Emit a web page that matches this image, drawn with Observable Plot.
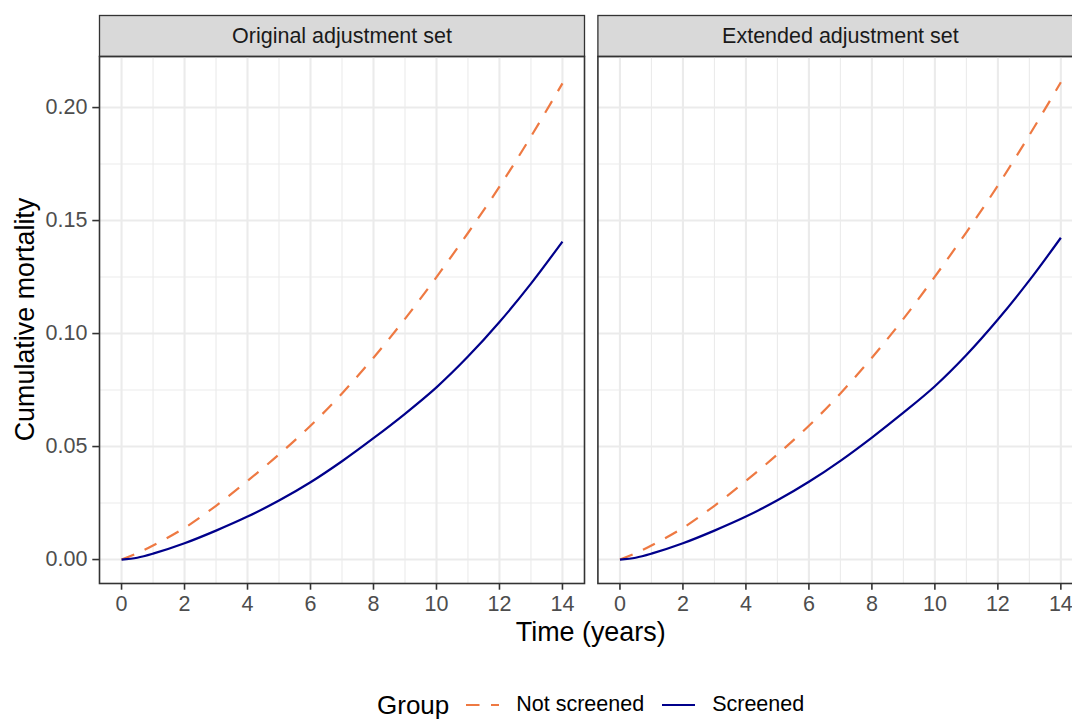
<!DOCTYPE html>
<html>
<head>
<meta charset="utf-8">
<script src="https://cdn.jsdelivr.net/npm/d3@7"></script>
<script src="https://cdn.jsdelivr.net/npm/@observablehq/plot@0.6"></script>
<style>
  html, body { margin: 0; padding: 0; background: white; overflow: hidden; }
  #wrap { position: relative; width: 1072px; height: 719px; overflow: hidden; font-family: "Liberation Sans", Arial, sans-serif; }
  #chart svg { display: block; }
  #legend { position: absolute; left: 377px; top: 692px; display: flex; align-items: center; height: 26px; white-space: nowrap; line-height: 1; }
  #legend .title { font-size: 26px; color: #000; margin-right: 17px; line-height: 1; }
  #legend .lab { font-size: 21.5px; color: #000; margin-left: 17px; margin-right: 18px; line-height: 1; }
  #legend svg { display: block; }
</style>
</head>
<body>
<div id="wrap">
  <div id="chart"></div>
  <div id="legend"></div>
</div>
<script>
// ---- data ----
const panels = ["Original adjustment set", "Extended adjustment set"];
const groups = ["Not screened", "Screened"];
const times = [0, 0.5, 1, 2, 3, 4, 5, 6, 7, 8, 9, 10, 11, 12, 13, 14];
const origNotScreened = [0, 0.0028, 0.0062, 0.0140, 0.0238, 0.0348, 0.0465, 0.0592, 0.0735, 0.0893, 0.1065, 0.1250, 0.1445, 0.1650, 0.1872, 0.2107];
const origScreened    = [0, 0.0008, 0.0026, 0.0072, 0.0128, 0.0190, 0.0261, 0.0342, 0.0435, 0.0537, 0.0645, 0.0762, 0.0898, 0.1051, 0.1221, 0.1407];
const extNotScreened  = [0, 0.0028, 0.0062, 0.0140, 0.0238, 0.0348, 0.0465, 0.0592, 0.0735, 0.0893, 0.1065, 0.1252, 0.1448, 0.1655, 0.1878, 0.2112];
const extScreened     = [0, 0.0008, 0.0026, 0.0072, 0.0128, 0.0190, 0.0262, 0.0344, 0.0437, 0.0540, 0.0650, 0.0767, 0.0905, 0.1062, 0.1235, 0.1424];
const xTicks = [0, 2, 4, 6, 8, 10, 12, 14];
const xMinor = [1, 3, 5, 7, 9, 11, 13];
const yTicks = [0, 0.05, 0.10, 0.15, 0.20];
const yMinor = [0.025, 0.075, 0.125, 0.175];
const groupColors = ["#EE7942", "#00008B"];
const groupDash = ["13.5,11.5", null];

// ---- table ----
const series = [
  [panels[0], groups[0], origNotScreened],
  [panels[0], groups[1], origScreened],
  [panels[1], groups[0], extNotScreened],
  [panels[1], groups[1], extScreened]
];
const rows = series.flatMap(([panel, group, vals]) =>
  times.map((t, i) => ({panel, group, time: t, value: vals[i]})));

const gridCol = "#ebebeb";
const darkCol = "#333333";

const lineMarks = groups.map((g, i) =>
  Plot.line(rows.filter(d => d.group === g), {
    x: "time", y: "value", fx: "panel",
    stroke: groupColors[i], strokeWidth: 2.2,
    strokeDasharray: groupDash[i], strokeLinecap: "butt",
    curve: "catmull-rom"
  }));

const plot = Plot.plot({
  width: 1083,
  height: 660,
  marginLeft: 99,
  marginRight: 0.6,
  marginTop: 56,
  marginBottom: 77,
  style: {fontFamily: "'Liberation Sans', Arial, sans-serif", background: "white", maxWidth: "none", overflow: "visible"},
  fx: {domain: panels, paddingInner: 13.4 / 498.4, paddingOuter: 0, round: false, axis: null, label: null},
  x: {domain: [-0.7, 14.7]},
  y: {domain: [-0.0106, 0.2226]},
  marks: [
    // strip background
    Plot.frame({fill: "#d9d9d9", stroke: darkCol, strokeWidth: 1.3, insetTop: -41, insetBottom: 527}),
    Plot.gridY({ticks: yMinor, stroke: gridCol, strokeOpacity: 1, strokeWidth: 1.1}),
    Plot.gridX({ticks: xMinor, stroke: gridCol, strokeOpacity: 1, strokeWidth: 1.1}),
    Plot.gridY({ticks: yTicks, stroke: gridCol, strokeOpacity: 1, strokeWidth: 2.1}),
    Plot.gridX({ticks: xTicks, stroke: gridCol, strokeOpacity: 1, strokeWidth: 2.1}),
    ...lineMarks,
    Plot.frame({stroke: darkCol, strokeWidth: 1.6}),
    Plot.axisY({ticks: yTicks, tickFormat: d => d.toFixed(2), tickSize: 6.7, tickPadding: 5.4,
                fontSize: 21.5, fill: "#4d4d4d", stroke: darkCol, strokeWidth: 1.6, label: null}),
    Plot.axisX({ticks: xTicks, tickFormat: d => String(d), tickSize: 6.7, tickPadding: 5.4,
                fontSize: 21.5, fill: "#4d4d4d", stroke: darkCol, strokeWidth: 1.6, label: null}),
    Plot.text(panels, {fx: d => d, text: d => d, frameAnchor: "top", lineAnchor: "middle", dy: -20.5,
                       fontSize: 21.5, fill: "#1a1a1a"})
  ]
});
document.getElementById("chart").appendChild(plot);

// axis titles
const svg = d3.select(plot);
svg.append("text")
  .attr("transform", "translate(33.5,319.5) rotate(-90)")
  .attr("text-anchor", "middle")
  .attr("font-size", 26.9)
  .attr("fill", "#000")
  .text("Cumulative mortality");
svg.append("text")
  .attr("x", 590.7).attr("y", 641)
  .attr("text-anchor", "middle")
  .attr("font-size", 26.9)
  .attr("fill", "#000")
  .text("Time (years)");

// legend
const legend = d3.select("#legend");
legend.append("span").attr("class", "title").text("Group");
groups.forEach((g, i) => {
  const key = legend.append("svg").attr("width", 33).attr("height", 26);
  key.append("line")
    .attr("x1", 0).attr("x2", 33).attr("y1", 13).attr("y2", 13)
    .attr("stroke", groupColors[i]).attr("stroke-width", 2.2)
    .attr("stroke-dasharray", groupDash[i])
    .attr("stroke-linecap", "butt");
  legend.append("span").attr("class", "lab").style("margin-right", i === groups.length - 1 ? "0px" : "18px").text(g);
});
</script>
</body>
</html>
